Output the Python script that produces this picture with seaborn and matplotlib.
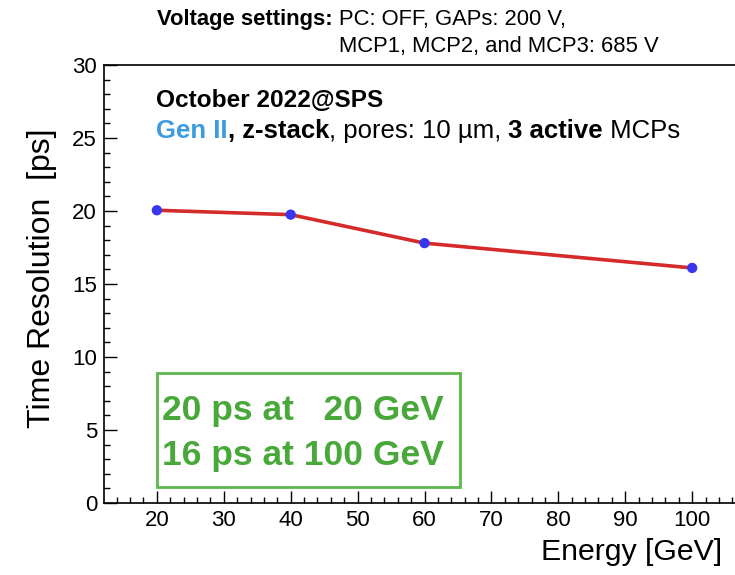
import matplotlib
matplotlib.use("Agg")
import matplotlib.pyplot as plt
from matplotlib.ticker import MultipleLocator
from matplotlib.patches import Rectangle
import seaborn as sns
import pandas as pd

# Measured time resolution versus beam energy
energy = [20, 40, 60, 100]
resolution = [20.05, 19.75, 17.8, 16.1]

x_label = "Energy [GeV]"
y_label = "Time Resolution  [ps]"

sns.set_theme(style="ticks")
plt.rcParams["font.family"] = ["Liberation Sans", "DejaVu Sans"]
plt.rcParams["text.color"] = "black"
plt.rcParams["axes.labelcolor"] = "black"

W, H = 735, 575
fig = plt.figure(figsize=(W / 100, H / 100), dpi=100)
ax = fig.add_axes([104 / W, 72 / H, (739 - 104) / W, 438 / H])

df = pd.DataFrame({"energy": energy, "resolution": resolution})
sns.lineplot(data=df, x="energy", y="resolution", color="#d42a2a", lw=2.6, ax=ax, zorder=2)
sns.scatterplot(data=df, x="energy", y="resolution", color="#3636ee", s=55,
                edgecolor="none", ax=ax, zorder=3)

ax.set_xlim(12.1, 107.0)
ax.set_ylim(0, 30)
ax.xaxis.set_major_locator(MultipleLocator(10))
ax.xaxis.set_minor_locator(MultipleLocator(2))
ax.yaxis.set_major_locator(MultipleLocator(5))
ax.yaxis.set_minor_locator(MultipleLocator(1))
ax.tick_params(which="both", direction="in", colors="black", labelcolor="black", width=1.0)
ax.tick_params(which="major", length=9, labelsize=16, pad=5)
ax.tick_params(which="minor", length=4.5)
ax.tick_params(axis="both", which="both", top=False, right=False)
for side in ("left", "bottom", "top"):
    ax.spines[side].set_color("black")
    ax.spines[side].set_linewidth(1.2)
ax.spines["right"].set_visible(False)

ax.set_xlabel("")
ax.set_ylabel("")
fig.text(722 / W, 1 - 560 / H, x_label, fontsize=21.8, ha="right", va="baseline")
fig.text(42 / W, 1 - 278 / H, y_label, fontsize=23, rotation=90, ha="center", va="center")

renderer = fig.canvas.get_renderer()


def put_runs(x_px, y_px, runs, size):
    """Write consecutive text pieces on one baseline; return x where each piece starts."""
    starts = []
    x = x_px
    for text, weight, color in runs:
        starts.append(x)
        t = fig.text(x / W, 1 - y_px / H, text, fontsize=size, weight=weight,
                     color=color, ha="left", va="baseline")
        bb = t.get_window_extent(renderer)
        x = bb.x1
    return starts


starts = put_runs(157, 25, [("Voltage settings: ", "bold", "black"),
                            ("PC: OFF, GAPs: 200 V,", "normal", "black")], 15.8)
put_runs(starts[1], 52, [("MCP1, MCP2, and MCP3: 685 V", "normal", "black")], 15.8)

put_runs(156, 107, [("October 2022@SPS", "bold", "black")], 17.6)
put_runs(156, 138, [("Gen II", "bold", "#3d9be0"),
                    (", z-stack", "bold", "black"),
                    (", pores: 10 \u00b5m, ", "normal", "black"),
                    ("3 active", "bold", "black"),
                    (" MCPs", "normal", "black")], 18.5)

green = "#48a83a"
fig.patches.append(Rectangle((157 / W, 1 - 487 / H), (460 - 157) / W, (487 - 373) / H,
                             transform=fig.transFigure, fill=False,
                             edgecolor="#5cb84a", lw=2.0, zorder=5))
put_runs(162, 420, [("20 ps at   20 GeV", "bold", green)], 25.5)
put_runs(162, 465, [("16 ps at 100 GeV", "bold", green)], 25.5)

fig.savefig("out.png", dpi=100)
